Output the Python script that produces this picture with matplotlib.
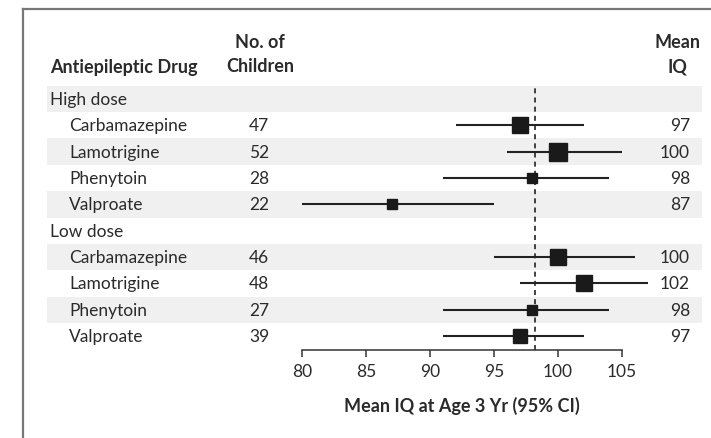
import matplotlib
matplotlib.use("Agg")
import matplotlib.pyplot as plt
from matplotlib.transforms import blended_transform_factory
from matplotlib.patches import Rectangle
from matplotlib.lines import Line2D

plt.rcParams['font.family'] = ['Lato', 'DejaVu Sans']

# ---- data ----
groups = ["High dose", "Low dose"]
drugs = ["Carbamazepine", "Lamotrigine", "Phenytoin", "Valproate"]
n_high = [47, 52, 28, 22]
n_low = [46, 48, 27, 39]
mean_high = [97, 100, 98, 87]
mean_low = [100, 102, 98, 97]
lo_high = [92, 96, 91, 80]
hi_high = [102, 105, 104, 95]
lo_low = [95, 97, 91, 91]
hi_low = [106, 107, 104, 102]
overall_mean = 98.2
xticks = [80, 85, 90, 95, 100, 105]

W, H = 711, 439
fig = plt.figure(figsize=(W / 100, H / 100), dpi=100)
fig.patch.set_facecolor("white")

ax_left, ax_right = 302, 622
ax_bot, ax_top = 351, 86.8
ax = fig.add_axes([ax_left / W, 1 - ax_bot / H, (ax_right - ax_left) / W, (ax_bot - ax_top) / H])
ax.set_facecolor("none")
ax.set_xlim(80, 105)
ax.set_ylim(9.53, -0.5)

tr = blended_transform_factory(fig.transFigure, ax.transData)
def fx(px):
    return px / W

# build rows
rows = []
for g, (ns, ms, los, his) in zip(groups, [(n_high, mean_high, lo_high, hi_high),
                                           (n_low, mean_low, lo_low, hi_low)]):
    rows.append(("group", g, None, None, None, None))
    for d, n, m, lo, hi in zip(drugs, ns, ms, los, his):
        rows.append(("drug", d, n, m, lo, hi))

FS = 12.5
txt_kw = dict(fontsize=FS, color="#2a2a2a")
for i, (kind, label, n, m, lo, hi) in enumerate(rows):
    if i % 2 == 0:
        ax.add_patch(Rectangle((fx(47), i - 0.5), fx(702) - fx(47), 1.0, transform=tr,
                               facecolor="#f0f0f0", edgecolor="none", clip_on=False, zorder=0))
    if kind == "group":
        ax.text(fx(50), i, label, transform=tr, ha="left", va="center", **txt_kw)
    else:
        ax.text(fx(69), i, label, transform=tr, ha="left", va="center", **txt_kw)
        ax.text(fx(259), i, str(n), transform=tr, ha="center", va="center", **txt_kw)
        ax.text(fx(690), i, str(m), transform=tr, ha="right", va="center", **txt_kw)
        ax.plot([lo, hi], [i, i], color="#222222", lw=1.5, solid_capstyle="butt",
                zorder=3, clip_on=False)
        side_px = 0.3 * n + 2.5
        ax.plot([m], [i], marker="s", ms=side_px * 0.72, color="#1a1a1a", mec="#1a1a1a",
                zorder=4, clip_on=False)

ax.axvline(overall_mean, color="#222222", lw=1.2, ls=(0, (3, 2.5)), zorder=2)

# headers
hdr_kw = dict(fontsize=13, color="#2a2a2a", fontweight="bold")
fig.text(fx(50), 1 - 67 / H, "Antiepileptic Drug", ha="left", va="center", **hdr_kw)
fig.text(fx(260), 1 - 43 / H, "No. of", ha="center", va="center", **hdr_kw)
fig.text(fx(260), 1 - 67 / H, "Children", ha="center", va="center", **hdr_kw)
fig.text(fx(677), 1 - 43 / H, "Mean", ha="center", va="center", **hdr_kw)
fig.text(fx(677), 1 - 67 / H, "IQ", ha="center", va="center", **hdr_kw)

# axis styling
for s in ["top", "left", "right"]:
    ax.spines[s].set_visible(False)
ax.spines["bottom"].set_color("#333333")
ax.spines["bottom"].set_linewidth(1.1)
ax.set_yticks([])
ax.set_xticks(xticks)
ax.set_xticklabels([str(t) for t in xticks])
ax.tick_params(axis="x", direction="out", length=5, width=1.1, color="#333333",
               labelsize=FS, labelcolor="#2a2a2a", pad=4.5)
ax.set_xlabel("Mean IQ at Age 3 Yr (95% CI)", fontsize=13, fontweight="bold",
              color="#2a2a2a", labelpad=12)

# frame (left and top)
fig.add_artist(Line2D([fx(22.5), fx(22.5)], [0, 1 - 10 / H], color="#777777", lw=1.6,
                      transform=fig.transFigure))
fig.add_artist(Line2D([fx(22.5), 1], [1 - 10 / H, 1 - 10 / H], color="#777777", lw=1.6,
                      transform=fig.transFigure))

fig.savefig("out.png", dpi=100)
